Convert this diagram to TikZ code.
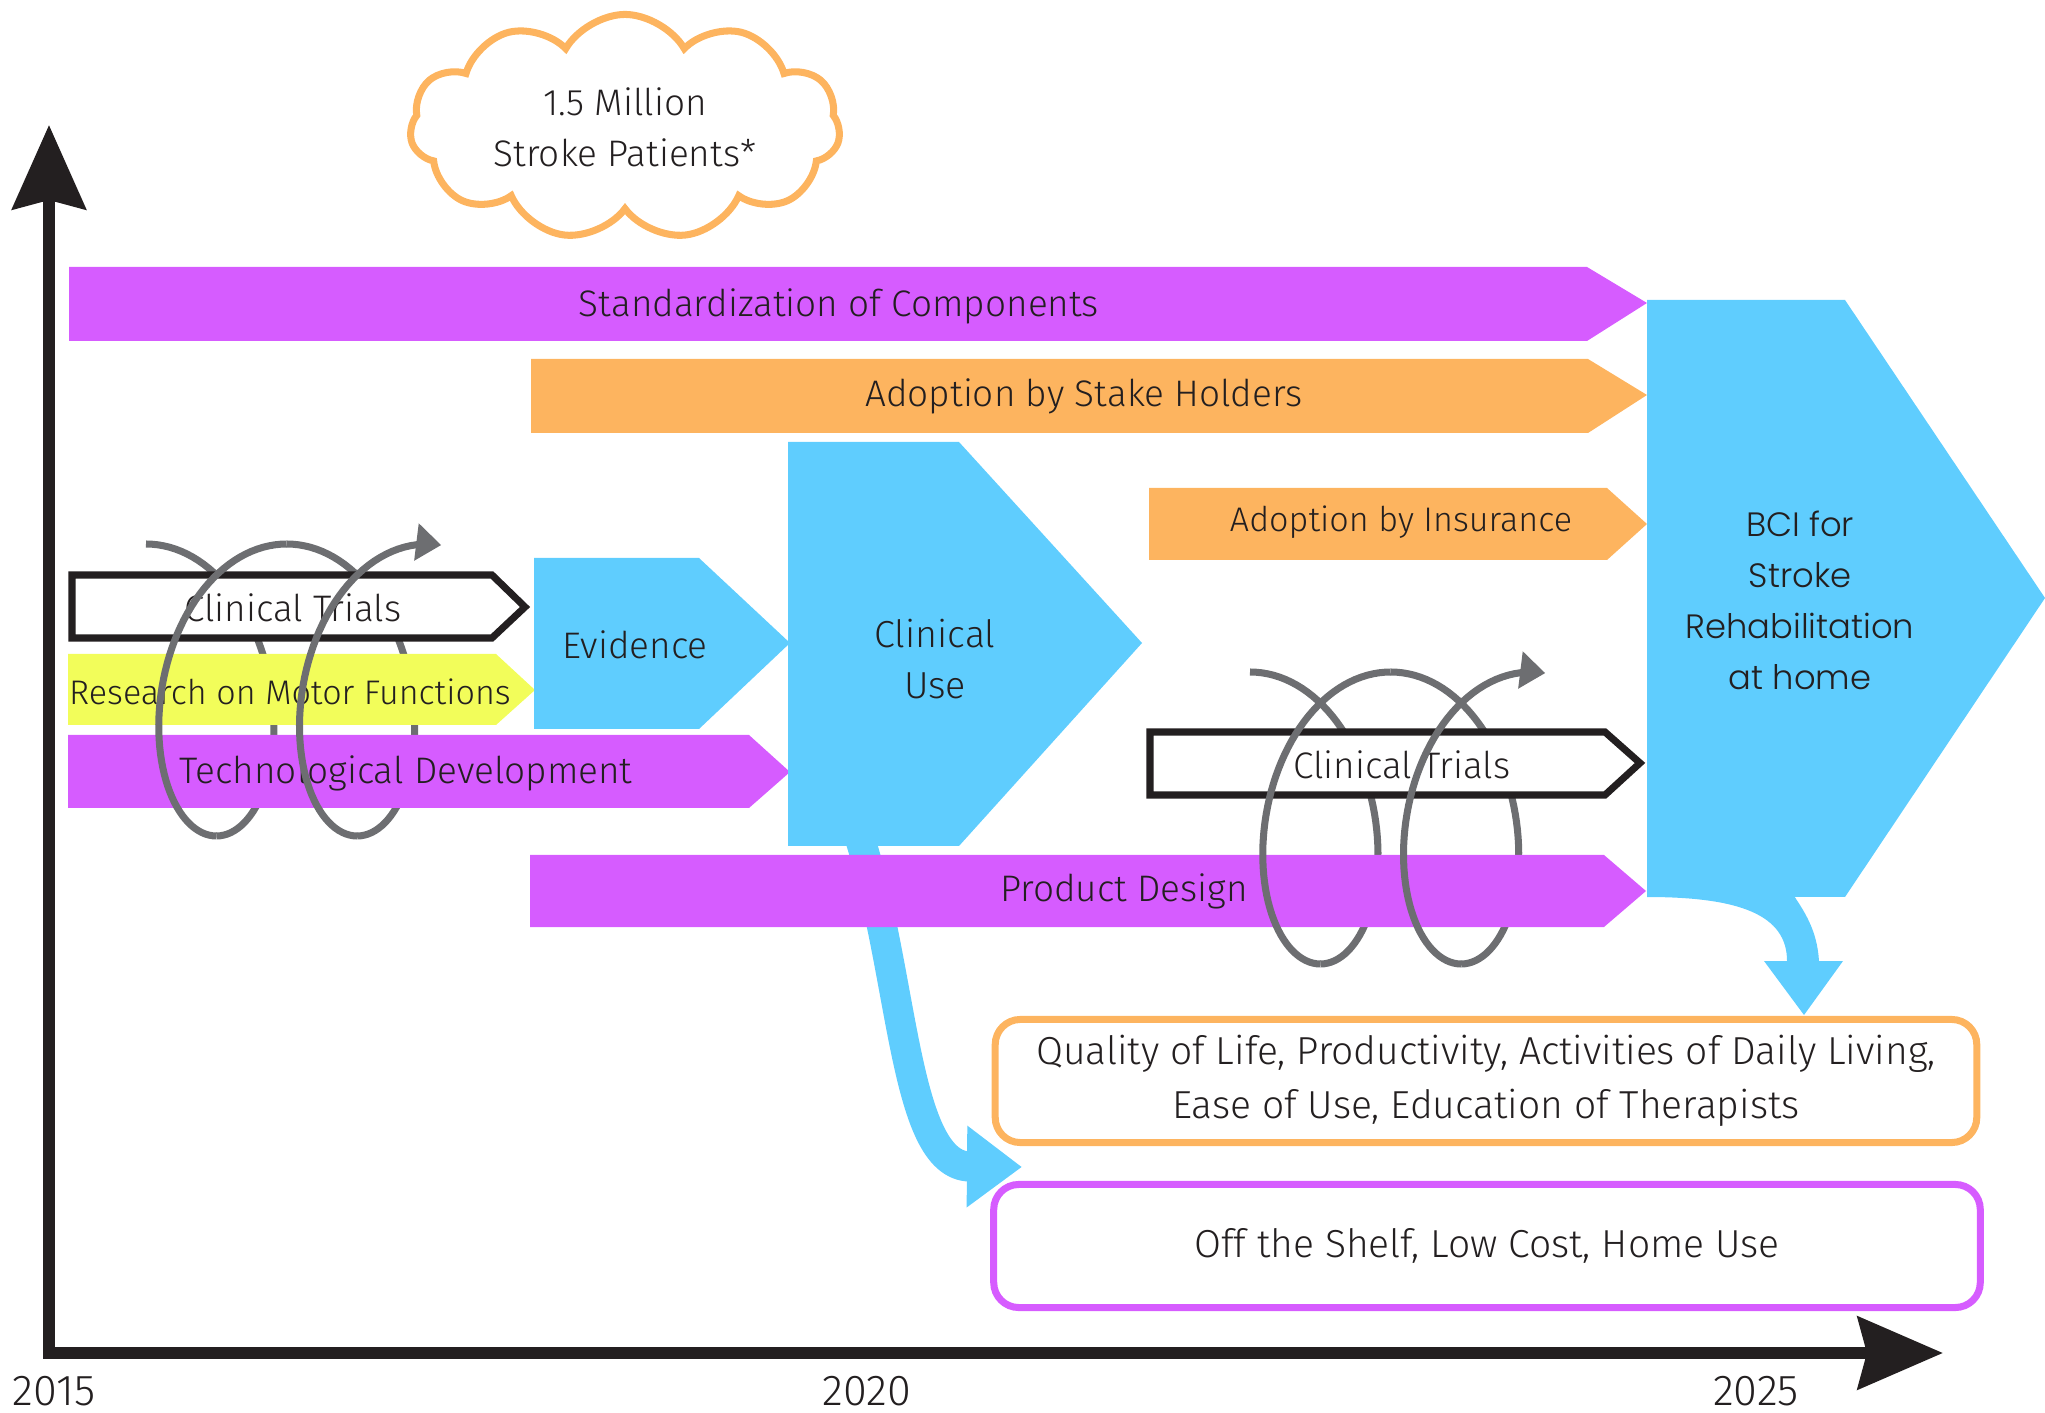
\documentclass[tikz,border=0pt]{standalone}
\usepackage{fontspec}
\setmainfont{Fira Sans}[UprightFont=* Light]
\newfontfamily\bcifont{Poppins}[UprightFont=* Light]
\usetikzlibrary{arrows.meta,shapes.symbols}

\definecolor{ink}{HTML}{231F20}
\definecolor{barpurple}{HTML}{D65CFF}
\definecolor{barorange}{HTML}{FDB45F}
\definecolor{barblue}{HTML}{5FCDFE}
\definecolor{baryellow}{HTML}{F2FD5A}
\definecolor{coilgray}{HTML}{6D6E71}

\newcommand{\barfont}{\fontsize{10.5}{13}\selectfont}
\newcommand{\smallbarfont}{\fontsize{9.7}{12}\selectfont}
\newcommand{\bigfont}{\fontsize{11.1}{15.5}\selectfont}
% one turn-piece of the grey spiral: x0, y centre, domain
\newcommand{\coilpart}[4][]{\draw[coil,#1] plot[domain=#4,samples=60,variable=\t]
  ({#2+22.4*\t+90*sin(\t r)},{#3-146*cos(\t r)});}

\begin{document}
\begin{tikzpicture}[x=0.01cm,y=-0.01cm,line join=miter,
    lbl/.style={text=ink,anchor=base,inner sep=0pt,font=\barfont},
    coil/.style={draw=coilgray,line width=2pt},
    trial/.style={draw=ink,line width=2pt,fill=white},
    outbox/.style={draw,line width=2pt,rounded corners=0.25cm,text=ink,align=center,inner sep=0pt,font=\bigfont}]
\useasboundingbox (0,0) rectangle (2045,1413);

% back halves of the spirals
\coilpart{146}{690}{0:3.1416}
\coilpart{146}{690}{6.2832:9.4248}
\coilpart{1250}{818}{0:3.1416}
\coilpart{1250}{818}{6.2832:9.4248}

% axes
\draw[ink,line width=0.12cm,{Stealth[length=0.84cm,width=0.73cm,inset=0.09cm]}-{Stealth[length=0.85cm,width=0.72cm,inset=0.09cm]}]
  (49,125) -- (49,1353) -- (1943,1353);
\node[lbl,font=\fontsize{12.3}{15}\selectfont] (y2015) at (54,1405) {2015};
\node[lbl,font=\fontsize{12.3}{15}\selectfont] (y2020) at (867,1405) {2020};
\node[lbl,font=\fontsize{12.3}{15}\selectfont] (y2025) at (1756,1405) {2025};

% cloud
\node[cloud,draw=barorange,line width=2pt,cloud puffs=11,cloud puff arc=120,aspect=1.9,cloud ignores aspect,
  minimum width=4.3cm,minimum height=2.25cm,align=center,text=ink,font=\fontsize{10.5}{14.5}\selectfont]
  (patients) at (625,127) {1.5 Million\\Stroke Patients*};

% bars
\fill[barpurple] (69,267) -- (1587,267) -- (1647,303) -- (1587,341) -- (69,341) -- cycle;
\fill[barorange] (531,359) -- (1588,359) -- (1647,395) -- (1588,433) -- (531,433) -- cycle;
\fill[barorange] (1149,488) -- (1607,488) -- (1647,524) -- (1607,560) -- (1149,560) -- cycle;
\draw[trial] (72,575) -- (492,575) -- (525,607) -- (492,638) -- (72,638) -- cycle;
\fill[baryellow] (68,654) -- (496,654) -- (535,690) -- (496,725) -- (68,725) -- cycle;
\fill[barblue] (534,558) -- (699,558) -- (790,643) -- (699,729) -- (534,729) -- cycle;
\fill[barpurple] (68,735) -- (749,735) -- (790,772) -- (749,808) -- (68,808) -- cycle;

\coordinate (usefoot) at (852,815);
\coordinate (shelfin) at (1022,1167);
\draw[barblue,line width=0.3cm,-{Triangle[length=0.55cm,width=0.78cm]}]
  (usefoot) .. controls (905,960) and (900,1166) .. (shelfin);
\fill[barblue] (788,442) -- (959,442) -- (1142,643) -- (959,846) -- (788,846) -- cycle;

\draw[trial] (1150,732) -- (1605,732) -- (1640,763) -- (1605,795) -- (1150,795) -- cycle;
\fill[barpurple] (530,855) -- (1604,855) -- (1646,891) -- (1604,927) -- (530,927) -- cycle;

\fill[barblue] (1647,300) -- (1845,300) -- (2045,598) -- (1845,897) -- (1647,897) -- cycle;
\fill[barblue] (1647,890) -- (1647,897) .. controls (1740,897) and (1787,915) .. (1787,961)
  -- (1764,961) -- (1804,1015) -- (1843,961) -- (1819,961)
  .. controls (1817,930) and (1805,912) .. (1790,890) -- cycle;

% labels
\node[lbl] (standard) at (839,317) {Standardization of Components};
\node[lbl] (stake) at (1084,407) {Adoption by Stake Holders};
\node[lbl,font=\smallbarfont] (insurance) at (1401,532) {Adoption by Insurance};
\node[lbl] (trialsA) at (293,622) {Clinical Trials};
\node[lbl] (evidence) at (635,659) {Evidence};
\node[lbl,font=\smallbarfont] (research) at (290,705) {Research on Motor Functions};
\node[lbl] (techdev) at (406,784) {Technological Development};
\node[lbl,anchor=center,align=center,font=\fontsize{10.7}{14.5}\selectfont] (cliniuse) at (935,659) {Clinical\\Use};
\node[lbl] (trialsB) at (1402,779) {Clinical Trials};
\node[lbl] (product) at (1124,902) {Product Design};
\node[lbl,anchor=center,align=center,font=\bcifont\fontsize{9.6}{14.5}\selectfont] (bci) at (1800,600)
  {BCI for\\Stroke\\Rehabilitation\\at home};

% outcome boxes
\node[outbox,draw=barorange,minimum width=9.81cm,minimum height=1.23cm] (quality) at (1486,1081)
  {Quality of Life, Productivity, Activities of Daily Living,\\Ease of Use, Education of Therapists};
\node[outbox,draw=barpurple,minimum width=9.86cm,minimum height=1.23cm] (shelf) at (1487,1246)
  {Off the Shelf, Low Cost, Home Use};

% front halves of the spirals
\coilpart{146}{690}{3.1416:6.2832}
\coilpart[-{Triangle[length=0.25cm,width=0.36cm]}]{146}{690}{9.4248:12.69}
\coilpart{1250}{818}{3.1416:6.2832}
\coilpart[-{Triangle[length=0.25cm,width=0.36cm]}]{1250}{818}{9.4248:12.69}
\end{tikzpicture}
\end{document}
